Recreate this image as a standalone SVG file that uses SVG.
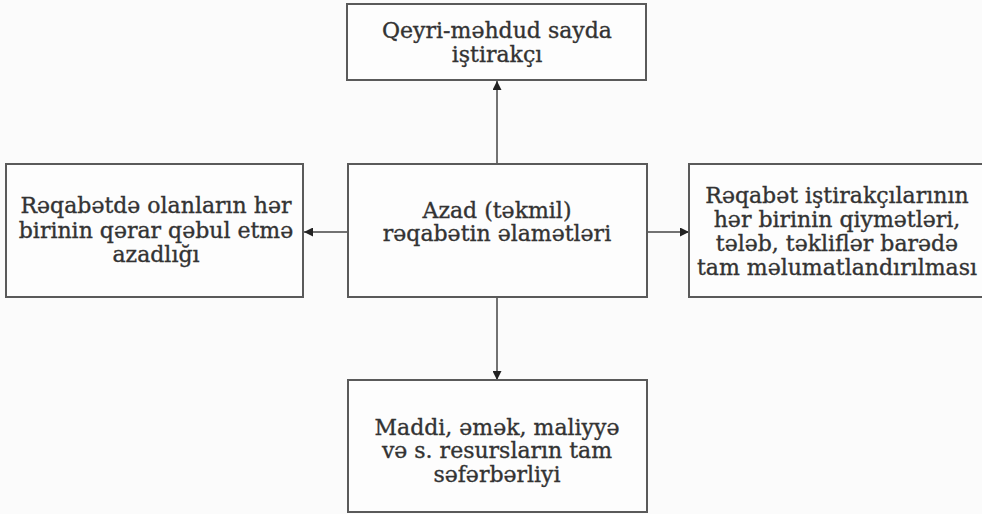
<svg xmlns="http://www.w3.org/2000/svg" width="982" height="514" viewBox="0 0 982 514">
<defs>
<style>
.box{fill:#fdfdfd;stroke:#5a5a5a;stroke-width:2}
.t{font-family:"DejaVu Serif","Liberation Serif",serif;font-size:22px;fill:#333;stroke:#333;stroke-width:0.35;text-anchor:middle}
.c{stroke:#444;stroke-width:1.5;fill:none}
</style>
<marker id="ah" viewBox="0 0 10 10" refX="10" refY="5" markerWidth="11" markerHeight="9" markerUnits="userSpaceOnUse" orient="auto">
<path d="M0,0 L10,5 L0,10 Z" fill="#222"/>
</marker>
</defs>
<rect width="982" height="514" fill="#fbfbfb"/>
<g id="connectors">
<line class="c" x1="497" y1="164" x2="497" y2="81" marker-end="url(#ah)"/>
<line class="c" x1="348" y1="232" x2="304" y2="232" marker-end="url(#ah)"/>
<line class="c" x1="647" y1="232" x2="689" y2="232" marker-end="url(#ah)"/>
<line class="c" x1="497" y1="297" x2="497" y2="380" marker-end="url(#ah)"/>
</g>
<g id="top">
<rect class="box" x="347" y="4" width="299" height="76"/>
<text class="t" x="497" y="38">Qeyri-məhdud sayda</text>
<text class="t" x="497" y="62">iştirakçı</text>
</g>
<g id="center">
<rect class="box" x="348" y="164" width="299" height="133"/>
<text class="t" x="497" y="218">Azad (təkmil)</text>
<text class="t" x="497" y="241">rəqabətin əlamətləri</text>
</g>
<g id="left">
<rect class="box" x="6" y="164" width="297" height="133"/>
<text class="t" x="156" y="213">Rəqabətdə olanların hər</text>
<text class="t" x="156" y="238">birinin qərar qəbul etmə</text>
<text class="t" x="156" y="262">azadlığı</text>
</g>
<g id="right">
<rect class="box" x="689" y="164" width="300" height="133"/>
<text class="t" x="837" y="203">Rəqabət iştirakçılarının</text>
<text class="t" x="837" y="227">hər birinin qiymətləri,</text>
<text class="t" x="837" y="251">tələb, təkliflər barədə</text>
<text class="t" x="837" y="275">tam məlumatlandırılması</text>
</g>
<g id="bottom">
<rect class="box" x="348" y="380" width="299" height="132"/>
<text class="t" x="497" y="435">Maddi, əmək, maliyyə</text>
<text class="t" x="497" y="458">və s. resursların tam</text>
<text class="t" x="497" y="482">səfərbərliyi</text>
</g>
</svg>
